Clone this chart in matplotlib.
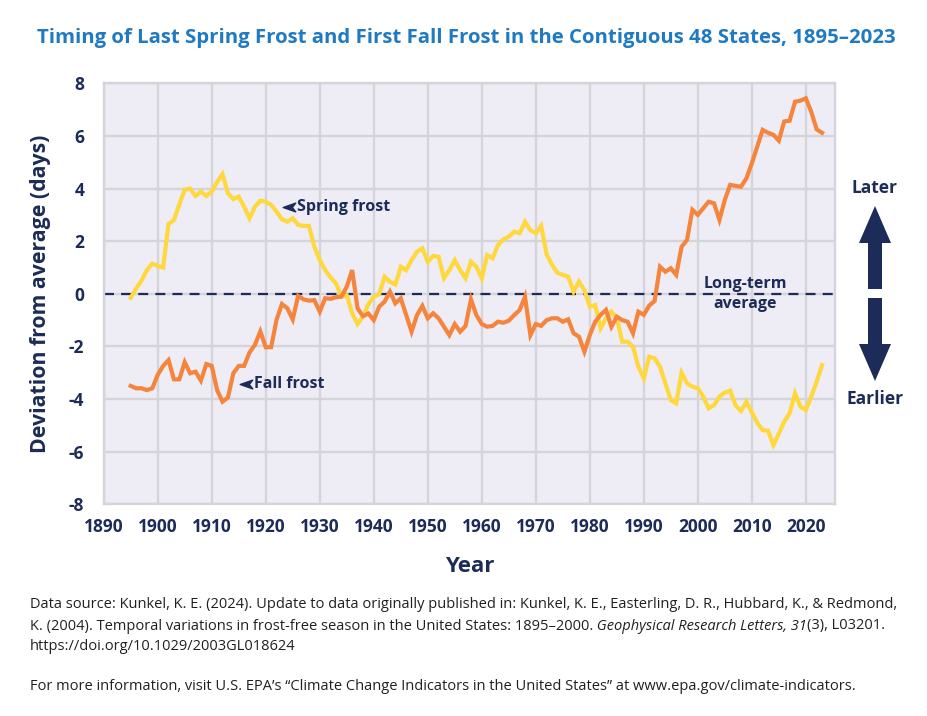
import matplotlib
matplotlib.use("Agg")
import matplotlib.pyplot as plt
from matplotlib.patches import Polygon
from matplotlib.path import Path
import numpy as np

plt.rcParams['axes.unicode_minus'] = False
plt.rcParams['font.family'] = ['Open Sans', 'DejaVu Sans']

years = list(range(1895, 2024))
spring_frost = [
    -0.15, 0.2, 0.5, 0.9, 1.15, 1.06, 1.0, 2.65, 2.8, 3.4,
    3.95, 4.0, 3.72, 3.88, 3.72, 3.88, 4.25, 4.55, 3.82, 3.6,
    3.69, 3.31, 2.87, 3.31, 3.54, 3.5, 3.38, 3.12, 2.83, 2.74,
    2.87, 2.62, 2.58, 2.58, 1.79, 1.29, 0.9, 0.62, 0.4, -0.1,
    -0.05, -0.74, -1.15, -0.87, -0.4, -0.11, -0.02, 0.65, 0.46, 0.35,
    1.03, 0.9, 1.28, 1.6, 1.73, 1.22, 1.44, 1.41, 0.6, 0.9,
    1.28, 0.9, 0.59, 1.22, 1.03, 0.59, 1.47, 1.35, 1.85, 2.07,
    2.17, 2.36, 2.3, 2.74, 2.42, 2.3, 2.58, 1.5, 1.1, 0.8,
    0.72, 0.65, 0.08, 0.46, 0.14, -0.49, -0.43, -1.31, -0.93, -0.68,
    -0.93, -1.82, -1.82, -2.01, -2.77, -3.21, -2.39, -2.45, -2.77, -3.4,
    -4.04, -4.16, -3.0, -3.4, -3.53, -3.59, -3.91, -4.35, -4.23, -3.91,
    -3.75, -3.68, -4.25, -4.45, -4.1, -4.5, -4.9, -5.18, -5.2, -5.75,
    -5.31, -4.86, -4.54, -3.78, -4.29, -4.42, -3.91, -3.34, -2.71]
fall_frost = [
    -3.5, -3.59, -3.59, -3.66, -3.59, -3.08, -2.74, -2.52, -3.25, -3.25,
    -2.6, -3.02, -2.96, -3.3, -2.67, -2.74, -3.66, -4.1, -3.94, -3.02,
    -2.74, -2.74, -2.23, -1.94, -1.43, -2.03, -2.03, -0.99, -0.39, -0.55,
    -0.97, -0.08, -0.21, -0.26, -0.24, -0.68, -0.17, -0.19, -0.13, -0.11,
    0.27, 0.9, -0.55, -0.85, -0.75, -1.0, -0.49, -0.3, 0.08, -0.36,
    -0.17, -0.81, -1.44, -0.81, -0.46, -0.93, -0.74, -0.93, -1.25, -1.57,
    -1.15, -1.44, -1.22, -0.21, -0.81, -1.15, -1.25, -1.22, -1.06, -1.1,
    -1.02, -0.81, -0.62, -0.11, -1.57, -1.15, -1.22, -1.0, -0.93, -0.93,
    -1.06, -0.97, -1.5, -1.63, -2.2, -1.57, -1.06, -0.8, -0.61, -1.25,
    -0.87, -1.0, -1.06, -1.5, -0.68, -0.8, -0.45, -0.27, 1.03, 0.84,
    0.97, 0.72, 1.79, 2.05, 3.19, 3.0, 3.25, 3.5, 3.44, 2.81,
    3.57, 4.14, 4.1, 4.07, 4.39, 4.96, 5.59, 6.23, 6.12, 6.04,
    5.82, 6.55, 6.58, 7.3, 7.34, 7.43, 6.92, 6.25, 6.12]
x_ticks = list(range(1890, 2030, 10))
y_ticks = [-8, -6, -4, -2, 0, 2, 4, 6, 8]

NAVY = '#1c2b57'
BLUE = '#1f7ac2'
YELLOW = '#ffd83d'
ORANGE = '#f5843c'
BG = '#eeecf5'
GRID = '#d5d4d9'

W, H = 928, 716
fig = plt.figure(figsize=(W / 100, H / 100), dpi=100)
ax = fig.add_axes([103.7 / W, 1 - 504.3 / H, (835 - 103.7) / W, (504.3 - 83.3) / H])
ax.set_facecolor(BG)
ax.set_xlim(1890, 2025.4)
ax.set_ylim(-8, 8)
ax.set_xticks(x_ticks)
ax.set_yticks(y_ticks)
ax.grid(True, color=GRID, lw=1.7, zorder=0)
ax.set_axisbelow(True)
for s in ax.spines.values():
    s.set_color(GRID)
    s.set_linewidth(1.7)
ax.tick_params(length=0, pad=10, labelsize=12.5, labelcolor=NAVY)
ax.tick_params(axis='y', pad=14)
for lab in ax.get_xticklabels() + ax.get_yticklabels():
    lab.set_fontweight('bold')

ax.axhline(0, color=NAVY, lw=1.6, dashes=(4.5, 3.2), zorder=2)
ax.plot(years, spring_frost, color=YELLOW, lw=3.0, zorder=3, solid_joinstyle='miter')
ax.plot(years, fall_frost, color=ORANGE, lw=3.0, zorder=4, solid_joinstyle='miter')

ah = Path([(-1, 0), (1, 0.7), (0.45, 0), (1, -0.7), (-1, 0)],
          [Path.MOVETO, Path.LINETO, Path.LINETO, Path.LINETO, Path.CLOSEPOLY])
ax.plot([1924.3], [3.3], marker=ah, ms=9, color=NAVY, mec=NAVY, zorder=5)
ax.text(1925.8, 3.3, 'Spring frost', color=NAVY, fontsize=11.5, fontweight='bold',
        va='center', ha='left', zorder=5)
ax.plot([1916.4], [-3.43], marker=ah, ms=9, color=NAVY, mec=NAVY, zorder=5)
ax.text(1917.9, -3.43, 'Fall frost', color=NAVY, fontsize=11.5, fontweight='bold',
        va='center', ha='left', zorder=5)
ax.text(2008.8, 0.38, 'Long-term', color=NAVY, fontsize=11.5, fontweight='bold',
        va='center', ha='center', zorder=5)
ax.text(2008.8, -0.4, 'average', color=NAVY, fontsize=11.5, fontweight='bold',
        va='center', ha='center', zorder=5)

ax.set_ylabel('Deviation from average (days)', fontsize=15.3, fontweight='bold',
              color=NAVY, labelpad=13)
ax.set_xlabel('Year', fontsize=16, fontweight='bold', color=NAVY, labelpad=14)

fig.text(466 / W, 1 - 38 / H, 'Timing of Last Spring Frost and First Fall Frost in the Contiguous 48 States, 1895\u20132023',
         ha='center', va='center', color=BLUE, fontsize=14.7, fontweight='bold')

# Later / Earlier arrows (pixel geometry)
def px(pts):
    return [(x / 100, (H - y) / 100) for x, y in pts]

cx = 875
up = [(cx, 206), (cx - 16, 243), (cx - 7, 243), (cx - 7, 289), (cx + 7, 289), (cx + 7, 243), (cx + 16, 243)]
dn = [(cx, 381), (cx - 16, 344), (cx - 7, 344), (cx - 7, 298), (cx + 7, 298), (cx + 7, 344), (cx + 16, 344)]
for pts in (up, dn):
    fig.add_artist(Polygon(px(pts), closed=True, transform=fig.dpi_scale_trans,
                           facecolor=NAVY, edgecolor='none'))
fig.text(cx / W, 1 - 188 / H, 'Later', ha='center', va='center', color=NAVY,
         fontsize=12.5, fontweight='bold')
fig.text(cx / W, 1 - 399 / H, 'Earlier', ha='center', va='center', color=NAVY,
         fontsize=12.5, fontweight='bold')

# footnotes
FOOT = '#231f20'
fs = 10.5
def line(y, parts):
    x = 30 / W
    r = fig.canvas.get_renderer()
    for txt, style in parts:
        t = fig.text(x, 1 - y / H, txt, ha='left', va='center', fontsize=fs,
                     color=FOOT, fontstyle=style)
        bb = t.get_window_extent(renderer=r)
        x = bb.x1 / W

line(605, [('Data source: Kunkel, K. E. (2024). Update to data originally published in: Kunkel, K. E., Easterling, D. R., Hubbard, K., & Redmond,', 'normal')])
line(626, [('K. (2004). Temporal variations in frost-free season in the United States: 1895\u20132000.', 'normal'),
           ('\u00a0Geophysical Research Letters, 31', 'italic'),
           ('(3), L03201.', 'normal')])
line(646, [('https://doi.org/10.1029/2003GL018624', 'normal')])
line(686, [('For more information, visit U.S. EPA\u2019s \u201cClimate Change Indicators in the United States\u201d at www.epa.gov/climate-indicators.', 'normal')])

fig.savefig('out.png', dpi=100, facecolor='white')
